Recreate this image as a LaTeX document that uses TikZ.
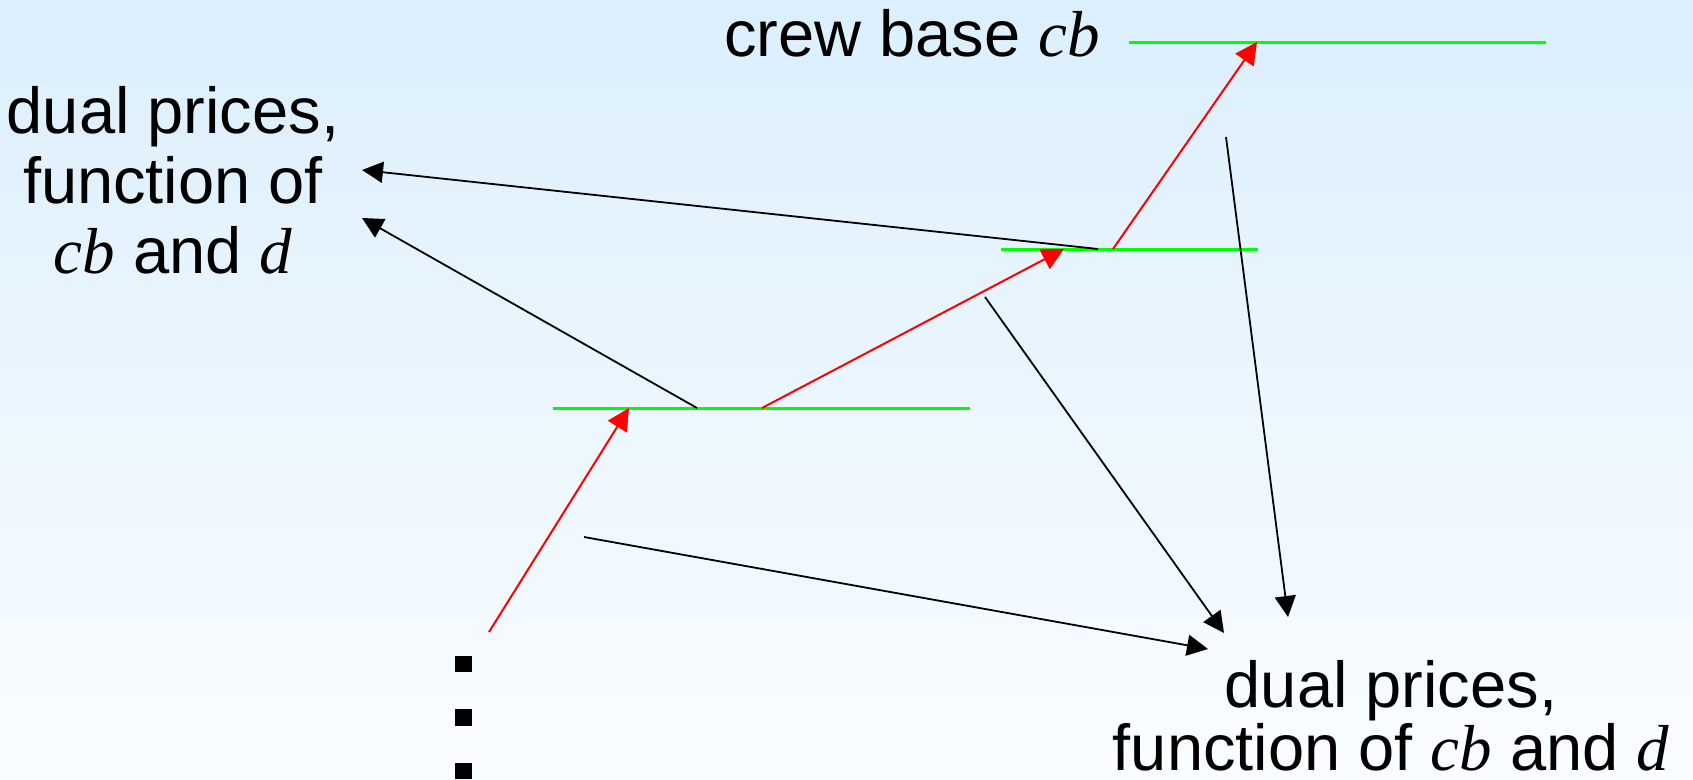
\documentclass[tikz,border=0pt]{standalone}
\usepackage{fontspec}
\setmainfont{Liberation Sans}
\newfontfamily\serifit{Liberation Serif}
\newcommand\mv[1]{{\serifit\itshape #1}}
\usetikzlibrary{arrows.meta}
\definecolor{bgtop}{RGB}{219,239,253}
\definecolor{bgbot}{RGB}{250,253,255}
\definecolor{lgreen}{RGB}{0,255,0}
\begin{document}
\begin{tikzpicture}[x=1pt,y=-1pt,
  lbl/.style={inner sep=0pt, align=center, font=\fontsize{65}{70}\selectfont},
  level/.style={draw=lgreen, line width=3pt},
  redarr/.style={draw=red, line width=2pt, -{Triangle[length=22pt,width=22pt]}},
  blkarr/.style={draw=black, line width=1.8pt, -{Triangle[length=21pt,width=21pt]}},
  dotsq/.style={fill=black}]
\fill[top color=bgtop, bottom color=bgbot] (0,0) rectangle (1693,779);
\useasboundingbox (0,0) rectangle (1693,779);

% texts (anchor=base is the baseline of the last line)
\node[lbl, anchor=base] (dpl) at (173,273) {dual prices,\\function of\\\mv{cb} and \mv{d}};
\node[lbl, anchor=base] (crew) at (912,56) {crew base \mv{cb}};
\node[lbl, anchor=base, font=\fontsize{65}{63}\selectfont] (dpr) at (1391,770) {dual prices,\\function of \mv{cb} and \mv{d}};

% levels
\coordinate (g1l) at (1129,42); \coordinate (g1r) at (1546,42);
\coordinate (g2l) at (1001,249); \coordinate (g2r) at (1258,249);
\coordinate (g3l) at (553,408); \coordinate (g3r) at (970,408);
\draw[level] (g1l) -- (g1r);
\draw[level] (g2l) -- (g2r);
\draw[level] (g3l) -- (g3r);

% points
\coordinate (r1s) at (489,632); \coordinate (r1e) at (629,408);
\coordinate (r2s) at (762,408); \coordinate (r2e) at (1064,249);
\coordinate (r3s) at (1113,249); \coordinate (r3e) at (1257,42);
\coordinate (as) at (1098,249); \coordinate (ae) at (362,170);
\coordinate (bs) at (697,408); \coordinate (be) at (362,218);
\coordinate (cs) at (985,297); \coordinate (ce) at (1224,633);
\coordinate (ds) at (1226,137); \coordinate (de) at (1288,617);
\coordinate (es) at (584,537); \coordinate (ee) at (1208,649);

\draw[redarr] (r1s) -- (r1e);
\draw[redarr] (r2s) -- (r2e);
\draw[redarr] (r3s) -- (r3e);
\draw[blkarr] (as) -- (ae);
\draw[blkarr] (bs) -- (be);
\draw[blkarr] (cs) -- (ce);
\draw[blkarr] (ds) -- (de);
\draw[blkarr] (es) -- (ee);

% vertical dots
\fill[dotsq] (455,656) rectangle (472,672);
\fill[dotsq] (455,709) rectangle (472,726);
\fill[dotsq] (455,763) rectangle (472,779);
\end{tikzpicture}
\end{document}
